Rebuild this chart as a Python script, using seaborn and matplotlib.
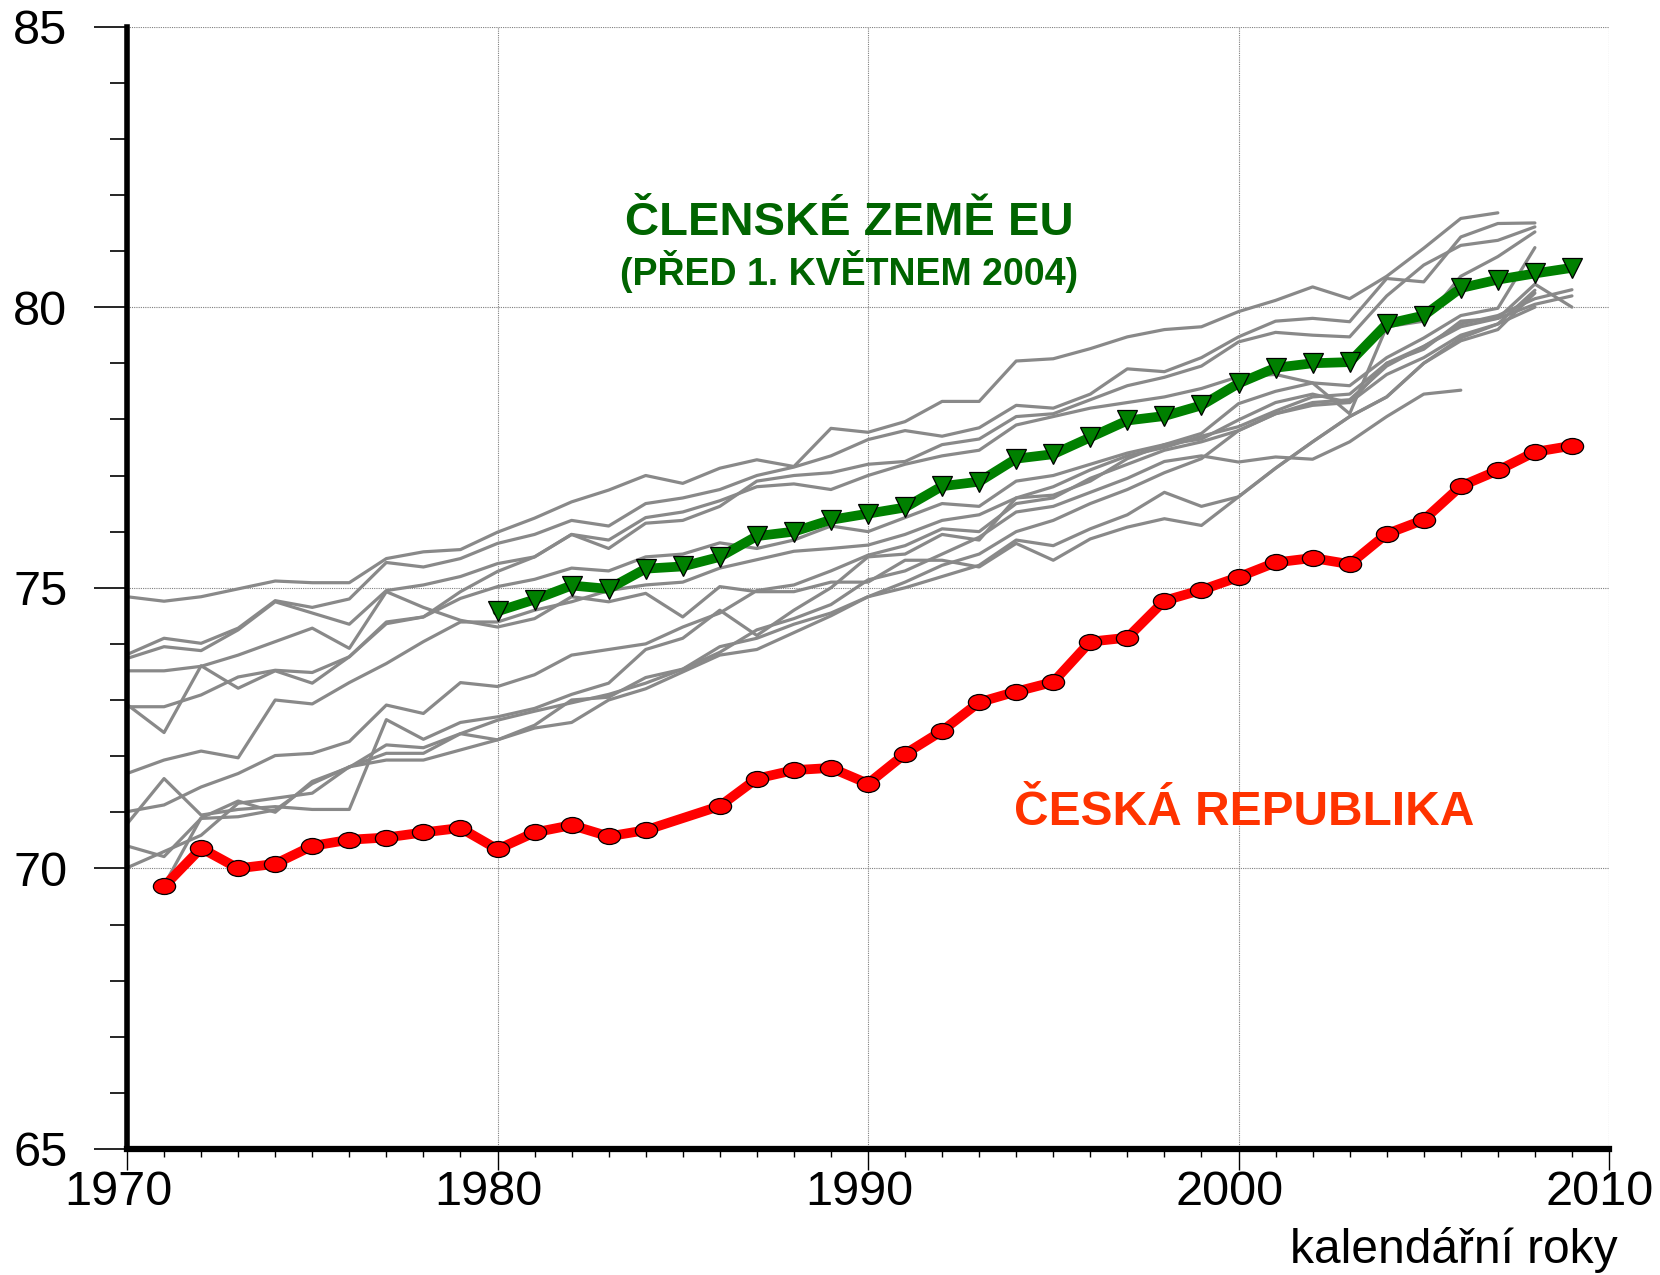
import numpy as np
import pandas as pd
import matplotlib
matplotlib.use("Agg")
import matplotlib.pyplot as plt
import matplotlib.path as mpath
import matplotlib.transforms as mtransforms
from matplotlib.ticker import MultipleLocator
import seaborn as sns

# years shared by the grey country lines
years = list(range(1970, 2010))

# Czech Republic (no value for 1985)
cz_years = [1971, 1972, 1973, 1974, 1975, 1976, 1977, 1978, 1979, 1980,
            1981, 1982, 1983, 1984, 1986, 1987, 1988, 1989, 1990,
            1991, 1992, 1993, 1994, 1995, 1996, 1997, 1998, 1999, 2000,
            2001, 2002, 2003, 2004, 2005, 2006, 2007, 2008, 2009]
cz_values = [69.68, 70.36, 70.00, 70.08, 70.40, 70.51, 70.55, 70.64, 70.72, 70.34,
             70.64, 70.77, 70.57, 70.68, 71.11, 71.60, 71.75, 71.79, 71.51,
             72.04, 72.45, 72.96, 73.15, 73.32, 74.04, 74.11, 74.77, 74.96, 75.19,
             75.45, 75.53, 75.42, 75.96, 76.21, 76.81, 77.09, 77.42, 77.53]

# EU members before 1 May 2004 (average)
eu_years = list(range(1980, 2010))
eu_values = [74.58, 74.79, 75.04, 74.98, 75.34, 75.38, 75.55, 75.92, 76.00, 76.21,
             76.32, 76.43, 76.81, 76.89, 77.30, 77.38, 77.68, 77.98, 78.06, 78.25,
             78.64, 78.92, 79.00, 79.02, 79.70, 79.85, 80.34, 80.49, 80.60, 80.70]

# individual member countries (grey lines), None = no data
c01 = [74.84, 74.76, 74.84, 74.98, 75.12, 75.09, 75.09, 75.52, 75.64, 75.68,
       75.99, 76.24, 76.53, 76.74, 77.00, 76.86, 77.13, 77.28, 77.16, 77.84,
       77.77, 77.96, 78.32, 78.32, 79.04, 79.08, 79.26, 79.47, 79.60, 79.65,
       79.92, 80.12, 80.36, 80.15, 80.55, 81.05, 81.58, 81.68, None, None]
c02 = [73.81, 74.10, 74.01, 74.28, 74.77, 74.65, 74.80, 75.45, 75.37, 75.52,
       75.79, 75.95, 76.20, 76.10, 76.50, 76.60, 76.75, 77.00, 77.15, 77.35,
       77.64, 77.80, 77.70, 77.85, 78.25, 78.20, 78.45, 78.90, 78.85, 79.10,
       79.47, 79.75, 79.80, 79.74, 80.51, 80.45, 81.25, 81.49, 81.50, None]
c03 = [73.74, 73.95, 73.88, 74.25, 74.75, 74.55, 74.35, 74.95, 75.05, 75.20,
       75.43, 75.55, 75.95, 75.70, 76.15, 76.20, 76.45, 76.90, 77.00, 77.05,
       77.20, 77.25, 77.55, 77.65, 78.05, 78.10, 78.35, 78.60, 78.75, 78.95,
       79.38, 79.55, 79.50, 79.47, 80.20, 80.75, 81.10, 81.19, 81.43, None]
c04 = [72.92, 72.42, 73.61, 73.21, 73.52, 73.30, 73.77, 74.36, 74.48, 74.93,
       75.29, 75.55, 75.95, 75.85, 76.25, 76.35, 76.55, 76.80, 76.85, 76.75,
       77.00, 77.20, 77.35, 77.45, 77.90, 78.05, 78.20, 78.30, 78.40, 78.55,
       78.76, 78.80, 78.65, 78.10, 79.65, 79.75, 80.55, 80.90, 81.34, None]
c05 = [73.52, 73.52, 73.60, 73.80, 74.04, 74.28, 73.92, 74.93, 74.65, 74.42,
       74.30, 74.45, 74.84, 74.75, 74.90, 74.48, 75.02, 74.93, 74.93, 75.10,
       75.10, 75.49, 75.49, 75.37, 75.79, 75.49, 75.87, 76.08, 76.23, 76.11,
       76.62, 77.13, 77.60, 78.05, 78.40, 79.00, 79.45, 79.70, 80.30, None]
c06 = [72.88, 72.88, 73.09, 73.41, 73.53, 73.49, 73.77, 74.39, 74.48, 74.81,
       75.02, 75.15, 75.35, 75.30, 75.55, 75.60, 75.80, 75.70, 75.85, 76.10,
       76.00, 76.25, 76.50, 76.45, 76.90, 77.00, 77.20, 77.40, 77.55, 77.65,
       77.99, 78.30, 78.45, 78.30, 79.00, 79.25, 79.75, 79.80, 80.41, 80.00]
c07 = [71.69, 71.93, 72.09, 71.97, 73.00, 72.93, 73.31, 73.65, 74.04, 74.39,
       74.39, 74.60, 74.75, 74.95, 75.05, 75.10, 75.35, 75.50, 75.65, 75.70,
       75.76, 75.95, 76.20, 76.30, 76.60, 76.80, 77.10, 77.35, 77.50, 77.70,
       77.87, 78.15, 78.40, 78.45, 79.00, 79.30, 79.70, 79.85, 80.15, 80.31]
c08 = [71.01, 71.13, 71.45, 71.69, 72.01, 72.05, 72.26, 72.91, 72.76, 73.31,
       73.24, 73.45, 73.80, 73.90, 74.00, 74.30, 74.55, 74.95, 75.05, 75.30,
       75.58, 75.75, 76.05, 76.00, 76.50, 76.60, 76.95, 77.20, 77.45, 77.60,
       77.80, 78.10, 78.30, 78.35, 78.95, 79.30, 79.65, 79.80, 80.05, 80.20]
c09 = [70.79, 71.60, 70.95, 71.05, 71.10, 71.05, 71.05, 72.65, 72.30, 72.60,
       72.70, 72.85, 73.10, 73.30, 73.90, 74.10, 74.60, 74.15, 74.60, 75.00,
       75.55, 75.60, 75.95, 75.85, 76.60, 76.65, 76.90, 77.30, 77.55, 77.75,
       78.28, 78.50, 78.65, 78.60, 79.10, 79.45, 79.85, 79.98, 81.06, None]
c10 = [70.40, 70.21, 70.89, 70.92, 71.04, 71.51, 71.81, 71.93, 71.93, 72.11,
       72.29, 72.50, 72.60, 73.00, 73.20, 73.50, 73.80, 73.90, 74.20, 74.50,
       74.84, 75.10, 75.40, 75.60, 76.00, 76.20, 76.50, 76.75, 77.05, 77.30,
       77.80, 78.10, 78.25, 78.30, 78.80, 79.10, 79.50, 79.70, 80.00, None]
c11 = [70.01, 70.30, 70.59, 71.16, 71.25, 71.34, 71.81, 72.05, 72.05, 72.40,
       72.64, 72.80, 72.95, 73.10, 73.30, 73.55, 73.85, 74.25, 74.45, 74.70,
       75.14, 75.30, 75.60, 75.90, 76.35, 76.45, 76.70, 76.95, 77.25, 77.35,
       77.24, 77.33, 77.29, 77.60, 78.05, 78.45, 78.52, None, None, None]
c12 = [None, 69.70, 70.90, 71.20, 71.00, 71.55, 71.80, 72.20, 72.15, 72.40,
       72.29, 72.55, 73.00, 73.05, 73.40, 73.55, 73.95, 74.10, 74.35, 74.55,
       74.84, 75.00, 75.20, 75.40, 75.85, 75.75, 76.05, 76.30, 76.70, 76.45,
       76.62, 77.13, 77.60, 78.05, 78.40, 79.00, 79.40, 79.60, 80.25, None]

countries = [c01, c02, c03, c04, c05, c06, c07, c08, c09, c10, c11, c12]

# long table for seaborn
rows = []
for i, vals in enumerate(countries):
    for yr, v in zip(years, vals):
        if v is not None:
            rows.append({"country": i, "year": yr, "value": v})
grey_df = pd.DataFrame(rows)
cz_df = pd.DataFrame({"year": cz_years, "value": cz_values})
eu_df = pd.DataFrame({"year": eu_years, "value": eu_values})

sns.set_style("white")
plt.rcParams['font.family'] = ['Liberation Sans', 'DejaVu Sans']

fig = plt.figure(figsize=(16.6, 12.75), dpi=100)
ax = fig.add_axes([127 / 1660, 1 - 1149 / 1275, (1609 - 127) / 1660, (1149 - 26.5) / 1275])

sns.lineplot(data=grey_df, x="year", y="value", units="country", estimator=None,
             color="#898989", lw=2.3, ax=ax, legend=False, zorder=2)

sns.lineplot(data=eu_df, x="year", y="value", color="#008000", lw=7, ax=ax,
             marker="v", markersize=14.5, markerfacecolor="#008000",
             markeredgecolor="black", markeredgewidth=0.9, zorder=4)

# flattened circle marker for the Czech line
circ = mpath.Path.unit_circle()
ellipse = mpath.Path(circ.vertices * np.array([1.0, 0.72]), circ.codes)
sns.lineplot(data=cz_df, x="year", y="value", color="#ff0000", lw=7, ax=ax,
             marker=ellipse, markersize=16, markerfacecolor="#ff0000",
             markeredgecolor="black", markeredgewidth=0.9, zorder=5)

ax.set_xlim(1970, 2010)
ax.set_ylim(65, 85)
ax.xaxis.set_major_locator(MultipleLocator(10))
ax.xaxis.set_minor_locator(MultipleLocator(1))
ax.yaxis.set_major_locator(MultipleLocator(5))
ax.yaxis.set_minor_locator(MultipleLocator(1))
ax.tick_params(axis='x', which='major', length=15, width=1, direction='out',
               pad=0, labelsize=35, colors='black')
ax.tick_params(axis='x', which='minor', length=6, width=1, direction='out', colors='black')
ax.tick_params(axis='y', which='major', length=24, width=1.2, direction='out',
               pad=19, labelsize=35, colors='black')
ax.tick_params(axis='y', which='minor', length=12, width=1.2, direction='out', colors='black')
ax.tick_params(bottom=True, left=True, which='both')

# year labels sit a little left of their ticks
shift = mtransforms.ScaledTranslation(-9 / 100, 0, fig.dpi_scale_trans)
for lab in ax.get_xticklabels():
    lab.set_transform(lab.get_transform() + shift)

ax.grid(True, which='major', color='#7f7f7f', linestyle=(0, (1, 1)), lw=0.8)
ax.set_axisbelow(True)
for side in ['top', 'right']:
    ax.spines[side].set_visible(False)
ax.spines['left'].set_linewidth(4)
ax.spines['bottom'].set_linewidth(4.5)
ax.spines['left'].set_color('black')
ax.spines['bottom'].set_color('black')
ax.set_xlabel('')
ax.set_ylabel('')

ax.text(1989.49, 81.29, 'ČLENSKÉ ZEMĚ EU', ha='center', va='baseline', fontsize=34,
        fontweight='bold', color='#006400', zorder=6)
ax.text(1989.49, 80.40, '(PŘED 1. KVĚTNEM 2004)', ha='center', va='baseline', fontsize=27,
        fontweight='bold', color='#006400', zorder=6)
ax.text(2000.16, 70.78, 'ČESKÁ REPUBLIKA', ha='center', va='baseline', fontsize=34.5,
        fontweight='bold', color='#ff3300', zorder=6)

fig.text(1618 / 1660, 1 - 1263 / 1275, 'kalendářní roky', ha='right', va='baseline',
         fontsize=34.5, color='black')

fig.savefig('out.png', dpi=100)
